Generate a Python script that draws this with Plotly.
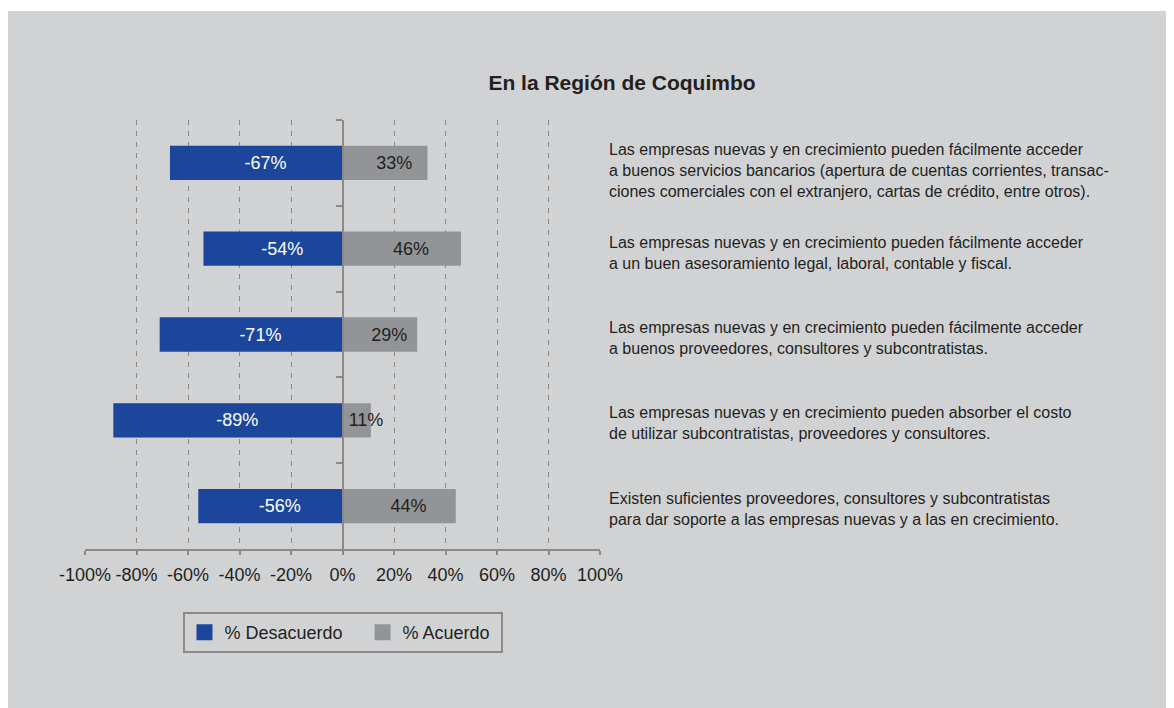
import plotly.graph_objects as go

statements = [
    "Las empresas nuevas y en crecimiento pueden fácilmente acceder<br>a buenos servicios bancarios (apertura de cuentas corrientes, transac-<br>ciones comerciales con el extranjero, cartas de crédito, entre otros).",
    "Las empresas nuevas y en crecimiento pueden fácilmente acceder<br>a un buen asesoramiento legal, laboral, contable y fiscal.",
    "Las empresas nuevas y en crecimiento pueden fácilmente acceder<br>a buenos proveedores, consultores y subcontratistas.",
    "Las empresas nuevas y en crecimiento pueden absorber el costo<br>de utilizar subcontratistas, proveedores y consultores.",
    "Existen suficientes proveedores, consultores y subcontratistas<br>para dar soporte a las empresas nuevas y a las en crecimiento.",
]
desacuerdo = [-67, -54, -71, -89, -56]
acuerdo = [33, 46, 29, 11, 44]
tick_vals = [-100, -80, -60, -40, -20, 0, 20, 40, 60, 80, 100]
tick_text = ["-100%", "-80%", "-60%", "-40%", "-20%", "0%", "20%", "40%", "60%", "80%", "100%"]
series_names = ["% Desacuerdo", "% Acuerdo"]
title_text = "En la Región de Coquimbo"

FONT = "Liberation Sans, Arial, sans-serif"
BG = "#d1d2d4"
BLUE = "#1b469c"
GRAY = "#939497"
DARK = "#231f20"
LINE = "#8a8a8a"
label_shifts = [-8, -4, -3, -3, -3]
LEAD = "\u00a0\u00a0\u00a0\u2009"  # nudges bar labels slightly right, as in the reference

fig = go.Figure()
fig.add_trace(go.Bar(
    y=statements, x=desacuerdo, orientation="h", name=series_names[0],
    marker=dict(color=BLUE, line=dict(width=0)), showlegend=False,
    text=[f"{LEAD}{v}%" for v in desacuerdo], texttemplate="%{text}",
    textposition="inside", insidetextanchor="middle", textangle=0,
    constraintext="none", hoverinfo="x+y",
    textfont=dict(color="white", size=18, family=FONT),
))
fig.add_trace(go.Bar(
    y=statements, x=acuerdo, orientation="h", name=series_names[1],
    marker=dict(color=GRAY, line=dict(width=0)), showlegend=False,
    text=[f"{LEAD}{v}%" for v in acuerdo], texttemplate="%{text}",
    textposition="inside", insidetextanchor="middle", textangle=0,
    constraintext="none", hoverinfo="x+y",
    textfont=dict(color=DARK, size=18, family=FONT),
))
# legend entries (larger square swatches)
fig.add_trace(go.Scatter(x=[None], y=[None], mode="markers", name=series_names[0] + "\u00a0\u00a0\u00a0",
                         marker=dict(symbol="square", size=19, color=BLUE)))
fig.add_trace(go.Scatter(x=[None], y=[None], mode="markers", name=series_names[1] + "\u00a0",
                         marker=dict(symbol="square", size=19, color=GRAY)))

for s, sh in zip(statements, label_shifts):
    fig.add_annotation(
        x=1.0136, xref="paper", y=s, yref="y", text=s, showarrow=False,
        xanchor="left", yanchor="middle", align="left", yshift=sh,
        font=dict(size=16, color=DARK, family=FONT),
    )

fig.add_shape(type="rect", xref="paper", yref="paper", x0=-0.4, x1=2.5,
              y0=1.2541, y1=1.5, fillcolor="white", line=dict(width=0), layer="below")

fig.update_layout(
    width=1174, height=708,
    margin=dict(l=77, r=582, t=112, b=167),
    paper_bgcolor=BG, plot_bgcolor=BG,
    barmode="relative", bargap=0.6,
    font=dict(family=FONT, color=DARK, size=16),
    title=dict(text="<b>" + title_text + "</b>", xref="container", yref="container",
               x=614 / 1174, y=1 - 75 / 708, xanchor="center", yanchor="middle",
               font=dict(size=21, color=DARK, family=FONT)),
    showlegend=True,
    legend=dict(orientation="h", x=0.5, xanchor="center", y=-0.147, yanchor="top",
                bgcolor="rgba(0,0,0,0)", bordercolor=LINE, borderwidth=2,
                font=dict(size=18, color=DARK, family=FONT),
                traceorder="normal", itemclick=False, itemdoubleclick=False),
    xaxis=dict(range=[-100, 100], tickvals=tick_vals, ticktext=tick_text,
               showgrid=True, gridcolor=LINE, gridwidth=1, griddash="5px,6px",
               zeroline=False, showline=True, linecolor=LINE, linewidth=2,
               ticks="outside", ticklen=4, tickcolor=LINE, tickwidth=2,
               ticklabelstandoff=4,
               tickfont=dict(size=18, color=DARK, family=FONT), fixedrange=True),
    yaxis=dict(type="category", autorange="reversed", showticklabels=False,
               showgrid=False, zeroline=False, showline=True, linecolor=LINE,
               linewidth=2, ticks="outside", tickson="boundaries", ticklen=6,
               tickcolor=LINE, tickwidth=2, anchor="free", position=0.5,
               fixedrange=True),
)

fig.write_html("out.html")
